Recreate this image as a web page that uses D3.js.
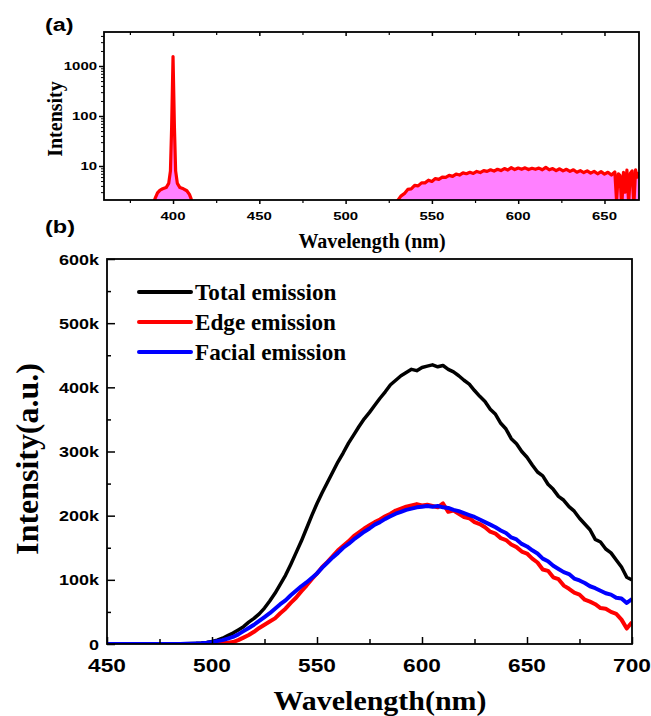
<!DOCTYPE html>
<html>
<head>
<meta charset="utf-8">
<script src="https://cdn.jsdelivr.net/npm/d3@7"></script>
<style>
  html, body { margin: 0; padding: 0; background: #fff; }
  svg { display: block; }
</style>
</head>
<body>
<div id="chart"></div>
<script>
// ---------- Panel (a): excitation + emission, log intensity ----------
const wavelengthA = [
  388, 389.5, 391, 392.5, 394, 396, 397.5, 398.5, 399.2, 400, 400.8, 401.5, 402.5, 404, 406, 408, 409.5, 410.5, 411.5,
  null,
  528, 530, 532, 534, 536, 538, 540, 542, 544, 546, 548, 550, 552, 554, 556, 558, 560, 562, 564, 566, 568,
  570, 572, 574, 576, 578, 580, 582, 584, 586, 588, 590, 592, 594, 596, 598, 600, 602, 604, 606, 608,
  610, 612, 614, 616, 618, 620, 622, 624, 626, 628, 630, 632, 634, 636, 638, 640, 642, 644, 646, 648,
  650, 652, 654, 656, 657, 658, 659, 660, 661, 662, 663, 664, 665, 666, 667, 668, 669, 670
];
const intensityA = [
  1.5, 2.2, 2.9, 3.3, 3.5, 3.7, 4.5, 8, 60, 1550, 60, 8, 4.5, 3.7, 3.5, 3.2, 2.7, 2.2, 1.5,
  null,
  1.5, 2.0, 2.5, 2.8, 3.4, 3.5, 4.1, 4.0, 4.6, 4.6, 5.2, 4.9, 5.6, 5.4, 6.0, 5.9, 6.5, 6.2, 6.9, 6.6, 7.3,
  7.0, 7.5, 7.1, 7.8, 7.4, 8.1, 7.8, 8.4, 7.9, 8.6, 8.1, 8.9, 8.3, 9.3, 8.5, 9.1, 8.6, 9.2, 8.5, 9.0,
  8.6, 9.1, 8.4, 9.4, 8.4, 8.9, 8.1, 8.8, 8.0, 8.6, 7.8, 8.4, 7.5, 8.1, 7.4, 8.0, 7.2, 7.8, 7.0, 7.7,
  6.9, 7.5, 6.6, 7.6, 2.0, 7.0, 6.5, 1.5, 7.5, 3.0, 8.3, 1.8, 7.2, 8.0, 1.6, 8.4, 6.0, 7.5
];
const xTicksA = [400, 450, 500, 550, 600, 650];
const xMinorA = [375, 425, 475, 525, 575, 625];
const yTicksA = [10, 100, 1000];
const yMinorA = [3, 4, 5, 6, 7, 8, 9, 20, 30, 40, 50, 60, 70, 80, 90, 200, 300, 400, 500, 600, 700, 800, 900, 2000, 3000, 4000];

// ---------- Panel (b): emission spectra ----------
const wavelengthB = d3.range(450, 700.01, 2.5);
const totalEmission = [
  0, 0, 0, 0, 0, 0, 0, 0, 0, 0, 0, 0, 0, 0, 0,
  0.5, 0.8, 1, 1.5, 2.5, 4, 6, 9, 13, 17, 22, 27, 34, 40, 47, 56, 67, 79, 93, 107, 124, 142, 160, 180, 200,
  219, 236, 252, 268, 284, 298, 313, 326, 339, 351, 361, 372, 383, 393, 404, 411, 418, 423, 428, 426,
  431, 433, 435, 432, 434, 428, 424, 418, 411, 405, 395, 386, 378, 366, 358, 344, 335, 320, 312, 300,
  291, 279, 268, 262, 249, 241, 230, 224, 214, 207, 196, 187, 178, 163, 159, 148, 142, 131, 120, 104, 100
];
const edgeEmission = [
  0, 0, 0, 0, 0, 0, 0, 0, 0, 0, 0, 0, 0, 0, 0, 0, 0, 0, 0, 0,
  0.3, 0.6, 1, 2, 3, 6, 10, 14, 19, 25, 30, 35, 40, 48, 55, 64, 72, 82, 91, 101,
  110, 120, 128, 137, 146, 153, 160, 168, 174, 180, 185, 190, 194, 199, 203, 208, 211, 214, 216, 218,
  216, 217, 215, 213, 219, 206, 208, 203, 198, 196, 190, 187, 182, 175, 172, 165, 162, 155, 151, 144,
  141, 133, 127, 116, 114, 104, 101, 91, 86, 80, 77, 69, 66, 62, 56, 55, 50, 47, 38, 24, 34
];
const facialEmission = [
  0, 0, 0, 0, 0, 0, 0, 0, 0, 0, 0, 0, 0, 0, 0,
  0.3, 0.5, 0.8, 1.2, 2, 3, 4.5, 6, 8.5, 11, 15, 20, 25, 30, 36, 42, 48, 55, 62, 68, 76, 83, 90, 96, 103,
  110, 119, 127, 135, 142, 150, 156, 163, 169, 175, 180, 186, 190, 195, 199, 203, 206, 209, 211, 213,
  214, 215, 214, 215, 213, 212, 209, 207, 204, 201, 198, 194, 190, 186, 182, 177, 173, 166, 163, 156,
  152, 146, 141, 133, 129, 122, 117, 112, 109, 102, 99, 95, 90, 87, 83, 79, 77, 72, 71, 64, 70
];
const seriesNames = ["Total emission", "Edge emission", "Facial emission"];
const seriesColors = ["#000000", "#ff0000", "#0000ff"];
const xTicksB = [450, 500, 550, 600, 650, 700];
const xMinorB = [475, 525, 575, 625, 675];
const yTicksB = [0, 100000, 200000, 300000, 400000, 500000, 600000];
const yMinorB = [50000, 150000, 250000, 350000, 450000, 550000];

const SERIF = "'Liberation Serif','Times New Roman',serif";
const SANS = "'Liberation Sans',Arial,sans-serif";

const svg = d3.select("#chart").append("svg").attr("width", 651).attr("height", 716);

// text helper with horizontal stretch
function label(g, x, y, txt, size, family, anchor, sx, rotate) {
  return g.append("text")
    .attr("transform", `translate(${x},${y})` + (rotate ? ` rotate(${rotate})` : "") + ` scale(${sx},1)`)
    .attr("text-anchor", anchor)
    .attr("font-family", family)
    .attr("font-weight", "bold")
    .attr("font-size", size)
    .attr("fill", "#000")
    .text(txt);
}

function styleAxis(g, w) {
  g.select(".domain").remove();
  g.selectAll("line").attr("stroke", "#000").attr("stroke-width", w);
  g.selectAll("text").remove();
}

// ===== Panel (a) =====
const ax = d3.scaleLinear().domain([360, 670]).range([104, 639]);
const ay = d3.scaleLog().domain([2.09, 4790]).range([200, 32]);
const gA = svg.append("g");

svg.append("clipPath").attr("id", "clipA")
  .append("rect").attr("x", 104).attr("y", 32).attr("width", 535).attr("height", 168);

const ptsA = wavelengthA.map((w, i) => ({ w, v: intensityA[i] }));
const defA = d => d.w != null && d.v != null;
const areaA = d3.area().defined(defA)
  .x(d => ax(d.w)).y0(ay.range()[0] + 2).y1(d => ay(d.v));
const lineA = d3.line().defined(defA).x(d => ax(d.w)).y(d => ay(d.v));

const plotA = gA.append("g").attr("clip-path", "url(#clipA)");
plotA.append("path").datum(ptsA).attr("d", areaA).attr("fill", "#ff80ff");
plotA.append("path").datum(ptsA).attr("d", lineA)
  .attr("fill", "none").attr("stroke", "#ff0000").attr("stroke-width", 3.2).attr("stroke-linejoin", "round");

// ticks for (a)
gA.append("g").attr("transform", "translate(0,200)")
  .call(d3.axisBottom(ax).tickValues(xTicksA).tickSize(4)).call(g => styleAxis(g, 1.5));
gA.append("g").attr("transform", "translate(0,200)")
  .call(d3.axisBottom(ax).tickValues(xMinorA).tickSize(3)).call(g => styleAxis(g, 1.2));
gA.append("g").attr("transform", "translate(0,32)")
  .call(d3.axisBottom(ax).tickValues(xTicksA).tickSize(4)).call(g => styleAxis(g, 1.5));
gA.append("g").attr("transform", "translate(0,32)")
  .call(d3.axisBottom(ax).tickValues(xMinorA).tickSize(3)).call(g => styleAxis(g, 1.2));
gA.append("g").attr("transform", "translate(104,0)")
  .call(d3.axisLeft(ay).tickValues(yTicksA).tickSize(5)).call(g => styleAxis(g, 1.5));
gA.append("g").attr("transform", "translate(104,0)")
  .call(d3.axisLeft(ay).tickValues(yMinorA).tickSize(3)).call(g => styleAxis(g, 1));

gA.append("rect").attr("x", 104).attr("y", 32).attr("width", 535).attr("height", 168)
  .attr("fill", "none").attr("stroke", "#000").attr("stroke-width", 1.8);

xTicksA.forEach(v => label(gA, ax(v), 220, String(v), 11.5, SANS, "middle", 1.3));
yTicksA.forEach(v => label(gA, 97, ay(v) + 4, String(v), 11.5, SANS, "end", 1.3));
label(gA, 372, 248, "Wavelength (nm)", 20, SERIF, "middle", 1);
label(gA, 62, 119, "Intensity", 20, SERIF, "middle", 1, -90);
label(gA, 45, 31, "(a)", 18.5, SANS, "start", 1.27);

// ===== Panel (b) =====
const bx = d3.scaleLinear().domain([450, 700]).range([107, 632]);
const by = d3.scaleLinear().domain([0, 600000]).range([644, 259]);
const gB = svg.append("g");

svg.append("clipPath").attr("id", "clipB")
  .append("rect").attr("x", 107).attr("y", 259).attr("width", 525).attr("height", 385);

const seriesB = [totalEmission, edgeEmission, facialEmission];
const lineB = d3.line().x(d => bx(d.w)).y(d => by(d.v * 1000));
const plotB = gB.append("g").attr("clip-path", "url(#clipB)");
seriesB.forEach((vals, k) => {
  const pts = wavelengthB.map((w, i) => ({ w, v: vals[i] })).filter(d => d.v != null);
  plotB.append("path").datum(pts).attr("d", lineB)
    .attr("fill", "none").attr("stroke", seriesColors[k])
    .attr("stroke-width", k === 0 ? 3.5 : 4).attr("stroke-linejoin", "round");
});

// inward ticks for (b)
gB.append("g").attr("transform", "translate(0,644)")
  .call(d3.axisBottom(bx).tickValues(xTicksB).tickSize(-7)).call(g => styleAxis(g, 1.5));
gB.append("g").attr("transform", "translate(0,644)")
  .call(d3.axisBottom(bx).tickValues(xMinorB).tickSize(-5)).call(g => styleAxis(g, 1.5));
gB.append("g").attr("transform", "translate(107,0)")
  .call(d3.axisLeft(by).tickValues(yTicksB).tickSize(-8)).call(g => styleAxis(g, 1.5));
gB.append("g").attr("transform", "translate(107,0)")
  .call(d3.axisLeft(by).tickValues(yMinorB).tickSize(-4)).call(g => styleAxis(g, 1.5));

gB.append("rect").attr("x", 107).attr("y", 259).attr("width", 525).attr("height", 385)
  .attr("fill", "none").attr("stroke", "#000").attr("stroke-width", 1.8);

yTicksB.forEach(v => label(gB, 99, by(v) + 5.5, v === 0 ? "0" : (v / 1000) + "k", 15, SANS, "end", 1.2));
xTicksB.forEach(v => label(gB, bx(v), 672, String(v), 18, SANS, "middle", 1.26));
label(gB, 380, 710, "Wavelength(nm)", 28, SERIF, "middle", 1.07);
label(gB, 38, 459, "Intensity(a.u.)", 31, SERIF, "middle", 1.03, -90);
label(gB, 45, 233, "(b)", 18.5, SANS, "start", 1.27);

// legend
const legendY = [292, 322, 352];
seriesNames.forEach((name, k) => {
  gB.append("line").attr("x1", 139).attr("x2", 191).attr("y1", legendY[k]).attr("y2", legendY[k])
    .attr("stroke", seriesColors[k]).attr("stroke-width", 4).attr("stroke-linecap", "round");
  label(gB, 195, legendY[k] + 7.5, name, 22.5, SERIF, "start", 1.03);
});
</script>
</body>
</html>
